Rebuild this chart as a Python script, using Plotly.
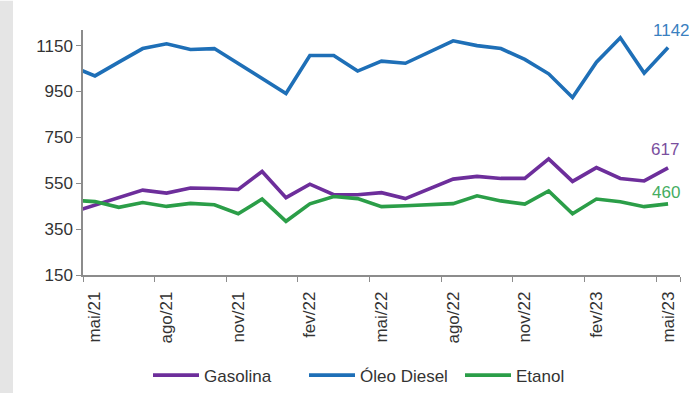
import plotly.graph_objects as go

# Monthly price series (abr/21 .. mai/23); the first month sits just outside the visible range
meses = ["abr/21", "mai/21", "jun/21", "jul/21", "ago/21", "set/21", "out/21", "nov/21",
         "dez/21", "jan/22", "fev/22", "mar/22", "abr/22", "mai/22", "jun/22", "jul/22",
         "ago/22", "set/22", "out/22", "nov/22", "dez/22", "jan/23", "fev/23", "mar/23",
         "abr/23", "mai/23"]

gasolina = [422, 456, 486, 520, 507, 529, 527, 523, 601, 487, 546, 500, 500, 509, 483, 526,
            568, 580, 571, 571, 656, 558, 618, 571, 560, 617]
oleo_diesel = [1060, 1018, 1078, 1137, 1158, 1133, 1137, 1072, 1005, 941, 1107, 1107, 1039,
               1082, 1073, 1120, 1171, 1150, 1137, 1090, 1027, 924, 1078, 1184, 1030, 1142]
etanol = [476, 470, 445, 466, 449, 462, 456, 417, 481, 384, 460, 492, 483, 448, 452, 458,
          461, 495, 473, 459, 516, 417, 481, 469, 448, 460]

rotulos_x = ["mai/21", "ago/21", "nov/21", "fev/22", "mai/22", "ago/22", "nov/22", "fev/23", "mai/23"]
ticks_y = [150, 350, 550, 750, 950, 1150]

series = [
    ("Gasolina", gasolina, "#6d2e9b", "#7a4f9e", -19, 18),
    ("Óleo Diesel", oleo_diesel, "#1e6fb7", "#3a80c0", -17, 17),
    ("Etanol", etanol, "#2b9e48", "#45ad5f", -18, 11),
]

FONT = "Liberation Sans, Arial, sans-serif"
FS = 17
ML, MR, MT, MB = 83, 9, 30, 121
W, H = 689, 402
plot_w = W - ML - MR
plot_h = H - MT - MB

fig = go.Figure()
for nome, valores, cor, _, _, _ in series:
    fig.add_trace(go.Scatter(
        x=meses, y=valores, name=nome, mode="lines",
        line=dict(color=cor, width=3.6),
        hoverinfo="skip",
    ))

# value labels on the last month of each series
for nome, valores, _, cor_txt, dx, dy in series:
    fig.add_annotation(
        x=meses[-1], y=valores[-1], text=str(valores[-1]),
        showarrow=False, xanchor="left", yanchor="middle",
        xshift=dx, yshift=dy,
        font=dict(family=FONT, size=FS, color=cor_txt),
    )

# light grey strip along the left edge of the page
fig.add_shape(
    type="rect", xref="paper", yref="paper",
    x0=-ML / plot_w, x1=(13 - ML) / plot_w,
    y0=-MB / plot_h, y1=1 + MT / plot_h,
    fillcolor="#e5e5e5", line=dict(width=0), layer="below",
)

fig.update_layout(
    width=W, height=H,
    margin=dict(l=ML, r=MR, t=MT, b=MB),
    paper_bgcolor="white", plot_bgcolor="white",
    font=dict(family=FONT, size=FS, color="#333333"),
    showlegend=True,
    legend=dict(
        orientation="h", x=(382 - ML) / plot_w, xanchor="center",
        y=-(384 - (H - MB)) / plot_h, yanchor="middle",
        font=dict(family=FONT, size=FS, color="#333333"),
        itemwidth=46, tracegroupgap=0,
        entrywidth=95, entrywidthmode="pixels",
    ),
)

fig.update_xaxes(
    type="category", categoryorder="array", categoryarray=meses,
    range=[0.5, len(meses) - 0.5],
    tickmode="array", tickvals=rotulos_x, ticktext=rotulos_x,
    tickson="boundaries", ticks="outside", ticklen=5, tickcolor="#8c8c8c",
    ticklabelstandoff=8,
    tickangle=-90, tickfont=dict(family=FONT, size=FS, color="#333333"),
    showline=True, linecolor="#8c8c8c", linewidth=1.5,
    showgrid=False, zeroline=False,
)
fig.update_yaxes(
    range=[150, 1218],
    tickmode="array", tickvals=ticks_y,
    ticks="outside", ticklen=5, tickcolor="#8c8c8c",
    tickfont=dict(family=FONT, size=FS, color="#333333"),
    showline=True, linecolor="#8c8c8c", linewidth=1.5,
    showgrid=False, zeroline=False,
)

fig.write_html("out.html")
